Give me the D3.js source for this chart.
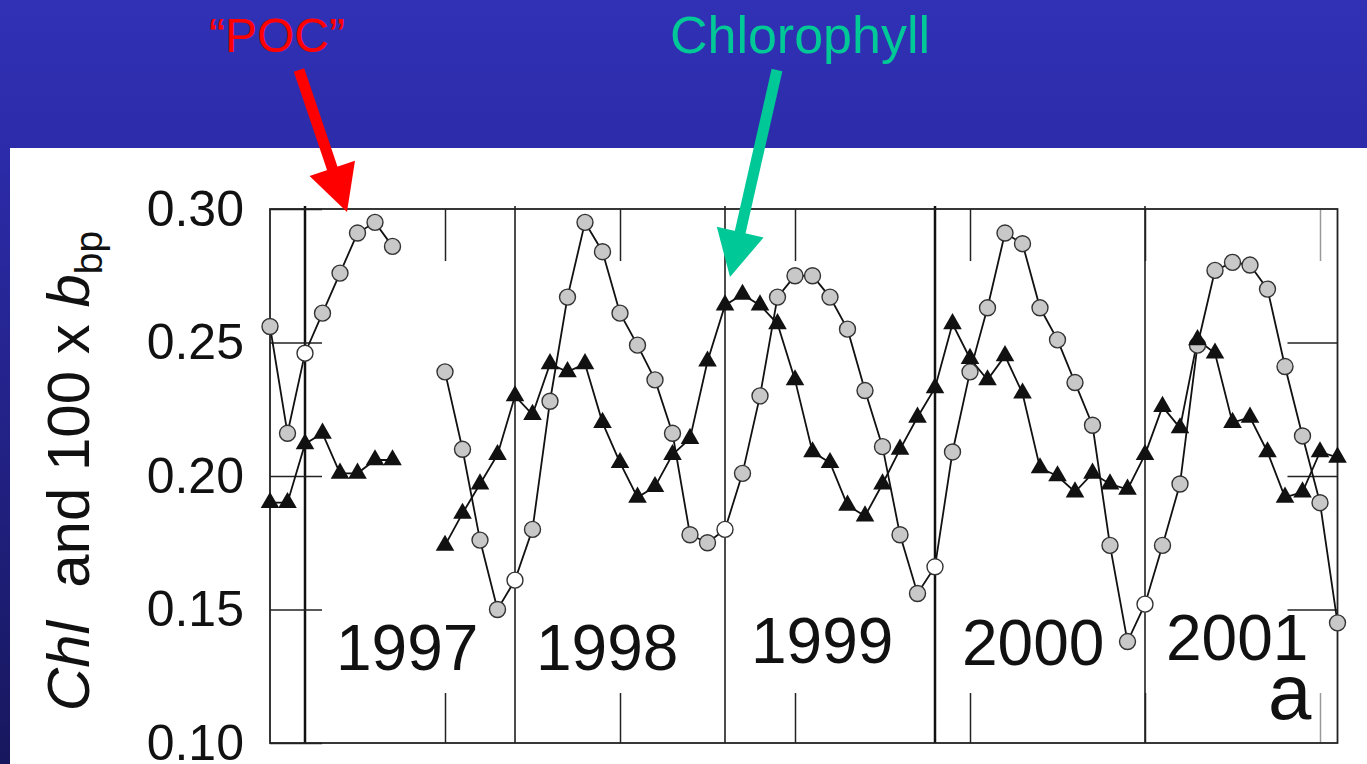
<!DOCTYPE html>
<html>
<head>
<meta charset="utf-8">
<script src="https://cdn.jsdelivr.net/npm/d3@7"></script>
<style>
  body { margin: 0; overflow: hidden; background: #2e2db0; }
  text { font-family: "Liberation Sans", Arial, sans-serif; }
</style>
</head>
<body>
<svg id="chart" width="1367" height="764"></svg>
<script>
// monthly samples, Nov 1996 - Dec 2001 (gap Jul/Aug 1997)
const months = [
  "1996-11", "1996-12",
  "1997-01", "1997-02", "1997-03", "1997-04", "1997-05", "1997-06", "1997-07", "1997-08", "1997-09", "1997-10", "1997-11", "1997-12",
  "1998-01", "1998-02", "1998-03", "1998-04", "1998-05", "1998-06", "1998-07", "1998-08", "1998-09", "1998-10", "1998-11", "1998-12",
  "1999-01", "1999-02", "1999-03", "1999-04", "1999-05", "1999-06", "1999-07", "1999-08", "1999-09", "1999-10", "1999-11", "1999-12",
  "2000-01", "2000-02", "2000-03", "2000-04", "2000-05", "2000-06", "2000-07", "2000-08", "2000-09", "2000-10", "2000-11", "2000-12",
  "2001-01", "2001-02", "2001-03", "2001-04", "2001-05", "2001-06", "2001-07", "2001-08", "2001-09", "2001-10", "2001-11", "2001-12"
];

// 100 x bbp ("POC"), grey circles
const poc = [
  0.256, 0.216,
  0.246, 0.261, 0.276, 0.291, 0.295, 0.286, null, null, 0.239, 0.210, 0.176, 0.150,
  0.161, 0.180, 0.228, 0.267, 0.295, 0.284, 0.261, 0.249, 0.236, 0.216, 0.178, 0.175,
  0.180, 0.201, 0.230, 0.267, 0.275, 0.275, 0.267, 0.255, 0.232, 0.211, 0.178, 0.156,
  0.166, 0.209, 0.239, 0.263, 0.291, 0.287, 0.263, 0.251, 0.235, 0.219, 0.174, 0.138,
  0.152, 0.174, 0.197, 0.249, 0.277, 0.280, 0.279, 0.270, 0.241, 0.215, 0.190, 0.145
];

// Chl, black triangles
const chl = [
  0.190, 0.190,
  0.212, 0.216, 0.201, 0.201, 0.206, 0.206, null, null, 0.174, 0.186, 0.197, 0.208,
  0.230, 0.223, 0.242, 0.239, 0.242, 0.220, 0.205, 0.192, 0.196, 0.208, 0.214, 0.243,
  0.264, 0.268, 0.264, 0.257, 0.236, 0.209, 0.205, 0.189, 0.185, 0.197, 0.210, 0.222,
  0.233, 0.257, 0.244, 0.236, 0.245, 0.231, 0.203, 0.200, 0.194, 0.201, 0.197, 0.195,
  0.208, 0.226, 0.218, 0.251, 0.246, 0.220, 0.222, 0.209, 0.192, 0.194, 0.209, 0.207
];

const yTicks = [0.10, 0.15, 0.20, 0.25, 0.30];
const years = [1997, 1998, 1999, 2000, 2001];
const yearLabels = ["1997", "1998", "1999", "2000", "2001"];
const xTickMonths = ["1997-09", "1998-07", "1999-05", "2000-03", "2001-01", "2001-11"];

const svg = d3.select('#chart');
const W = 1367, H = 764;

const frame = { left: 270, right: 1337.5, top: 209, bottom: 743 };

// decimal year, January sits on the year line
const toYear = s => +s.slice(0, 4) + (+s.slice(5, 7) - 1) / 12;

// slide background
const defs = svg.append('defs');
const grad = defs.append('linearGradient')
  .attr('id', 'slideBg')
  .attr('x1', 0).attr('y1', 0).attr('x2', 0).attr('y2', 1);
grad.append('stop').attr('offset', '0%').attr('stop-color', '#3131b6');
grad.append('stop').attr('offset', '20%').attr('stop-color', '#2c2ba9');
grad.append('stop').attr('offset', '100%').attr('stop-color', '#17175e');

svg.append('rect').attr('width', W).attr('height', H).attr('fill', 'url(#slideBg)');
svg.append('rect')
  .attr('x', 10).attr('y', 148)
  .attr('width', W - 10).attr('height', H - 148)
  .attr('fill', '#ffffff');

const x = d3.scaleLinear()
  .domain([toYear(months[0]), toYear(months[months.length - 1])])
  .range([frame.left, frame.right]);

const y = d3.scaleLinear()
  .domain([0.10, 0.30])
  .range([frame.bottom, frame.top]);

const plot = svg.append('g');

// year boundaries
plot.selectAll('line.year')
  .data(years)
  .enter()
  .append('line')
  .attr('class', 'year')
  .attr('x1', d => x(d)).attr('x2', d => x(d))
  .attr('y1', frame.top - 3).attr('y2', frame.bottom)
  .attr('stroke', '#111')
  .attr('stroke-width', d => (d === 1997 || d === 2000) ? 2.5 : 1.5);

// inner ticks on all four sides
const tickStyle = g => {
  g.select('.domain').remove();
  g.selectAll('.tick line').attr('stroke', '#222').attr('stroke-width', 1.5);
};

plot.append('g')
  .attr('transform', 'translate(' + frame.left + ',0)')
  .call(d3.axisLeft(y).tickValues(yTicks).tickSize(-52).tickPadding(26).tickFormat(d3.format('.2f')))
  .call(tickStyle)
  .selectAll('text')
  .attr('fill', '#111')
  .style('font-size', '50px');

plot.append('g')
  .attr('transform', 'translate(' + frame.right + ',0)')
  .call(d3.axisRight(y).tickValues(yTicks.slice(1, -1)).tickSize(-50).tickFormat(''))
  .call(tickStyle);

const xTicks = xTickMonths.map(toYear);
plot.append('g')
  .attr('transform', 'translate(0,' + frame.top + ')')
  .call(d3.axisBottom(x).tickValues(xTicks).tickSize(52).tickFormat(''))
  .call(tickStyle)
  .selectAll('.tick line')
  .attr('stroke', (d, i) => i === xTicks.length - 1 ? '#999' : '#222');

plot.append('g')
  .attr('transform', 'translate(0,' + frame.bottom + ')')
  .call(d3.axisTop(x).tickValues(xTicks).tickSize(50).tickFormat(''))
  .call(tickStyle)
  .selectAll('.tick line')
  .attr('stroke', (d, i) => i === xTicks.length - 1 ? '#999' : '#222');

// frame
plot.append('rect')
  .attr('x', frame.left).attr('y', frame.top)
  .attr('width', frame.right - frame.left).attr('height', frame.bottom - frame.top)
  .attr('fill', 'none')
  .attr('stroke', '#222')
  .attr('stroke-width', 1.8);

// series
const points = (vals) => months.map((m, i) => ({ m: m, t: toYear(m), v: vals[i] }))
  .filter(d => d.v !== null);

const line = d3.line()
  .defined(d => d.v !== null)
  .x(d => x(d.t))
  .y(d => y(d.v));

const chlAll = months.map((m, i) => ({ t: toYear(m), v: chl[i] }));
const pocAll = months.map((m, i) => ({ t: toYear(m), v: poc[i] }));

plot.append('path')
  .datum(chlAll)
  .attr('d', line)
  .attr('fill', 'none')
  .attr('stroke', '#111')
  .attr('stroke-width', 1.8);

plot.append('path')
  .datum(pocAll)
  .attr('d', line)
  .attr('fill', 'none')
  .attr('stroke', '#111')
  .attr('stroke-width', 1.8);

plot.selectAll('circle.poc')
  .data(points(poc))
  .enter()
  .append('circle')
  .attr('class', 'poc')
  .attr('cx', d => x(d.t))
  .attr('cy', d => y(d.v))
  .attr('r', 8)
  .attr('fill', d => d.m.endsWith('-01') ? '#ffffff' : '#c8c8c8')
  .attr('stroke', '#333')
  .attr('stroke-width', 1.4);

const tri = d3.symbol().type(d3.symbolTriangle).size(150);
plot.selectAll('path.chl')
  .data(points(chl))
  .enter()
  .append('path')
  .attr('class', 'chl')
  .attr('d', tri)
  .attr('transform', d => 'translate(' + x(d.t) + ',' + y(d.v) + ')')
  .attr('fill', '#111');

// year labels
const yearLabelPos = [[336, 670], [536, 670], [751, 663], [962, 665], [1166, 660]];
plot.selectAll('text.yearLabel')
  .data(yearLabels)
  .enter()
  .append('text')
  .attr('class', 'yearLabel')
  .attr('x', (d, i) => yearLabelPos[i][0])
  .attr('y', (d, i) => yearLabelPos[i][1])
  .attr('fill', '#111')
  .style('font-size', '64px')
  .text(d => d);

plot.append('text')
  .attr('x', 1268).attr('y', 719)
  .attr('fill', '#111')
  .style('font-size', '78px')
  .text('a');

// y axis title
const yTitle = svg.append('text')
  .attr('transform', 'translate(89,471) rotate(-90)')
  .attr('text-anchor', 'middle')
  .attr('fill', '#111')
  .style('font-size', '60px');
yTitle.append('tspan').style('font-style', 'italic').text('Chl');
yTitle.append('tspan').text('\u00a0 and 100 x ');
yTitle.append('tspan').style('font-style', 'italic').text('b');
yTitle.append('tspan').attr('dy', 13).style('font-size', '39px').text('bp');

// annotations
const annotations = [
  { label: '\u201cPOC\u201d', color: '#ff0000', tx: 277, ty: 52, size: 48, from: [299, 70], to: [347, 212] },
  { label: 'Chlorophyll', color: '#00c896', tx: 800, ty: 53, size: 52, from: [777, 70], to: [730, 277] }
];

annotations.forEach(a => {
  svg.append('text')
    .attr('x', a.tx).attr('y', a.ty)
    .attr('text-anchor', 'middle')
    .attr('fill', a.color)
    .style('font-size', a.size + 'px')
    .text(a.label);

  const dx = a.to[0] - a.from[0], dy = a.to[1] - a.from[1];
  const len = Math.sqrt(dx * dx + dy * dy);
  const ux = dx / len, uy = dy / len;
  const headLen = 46, headHalf = 24;
  const bx = a.to[0] - ux * headLen, by = a.to[1] - uy * headLen;

  svg.append('line')
    .attr('x1', a.from[0]).attr('y1', a.from[1])
    .attr('x2', bx + ux * 2).attr('y2', by + uy * 2)
    .attr('stroke', a.color)
    .attr('stroke-width', 11);

  svg.append('path')
    .attr('d', d3.line()([
      a.to,
      [bx - uy * headHalf, by + ux * headHalf],
      [bx + uy * headHalf, by - ux * headHalf]
    ]) + 'Z')
    .attr('fill', a.color);
});
</script>
</body>
</html>
